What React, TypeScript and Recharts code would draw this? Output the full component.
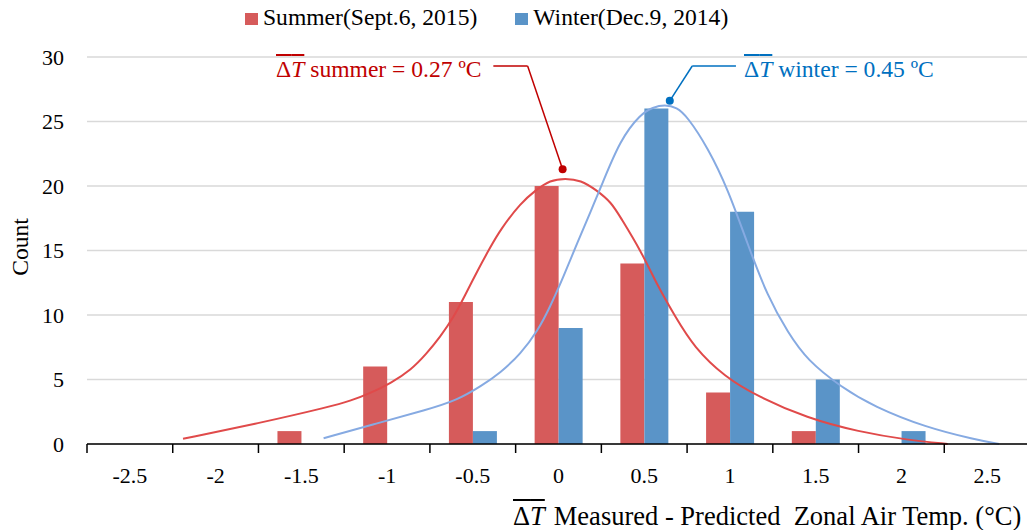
import React from 'react';
import {
  ComposedChart, Bar, Line, XAxis, YAxis, CartesianGrid, ReferenceLine, ReferenceDot,
} from 'recharts';

// ---- histogram data ----
const categories = ['-2.5', '-2', '-1.5', '-1', '-0.5', '0', '0.5', '1', '1.5', '2', '2.5'];
const summerCounts = [0, 0, 1, 6, 11, 20, 14, 4, 1, 0, 0];
const winterCounts = [0, 0, 0, 0, 1, 9, 26, 18, 5, 1, 0];
const yTicks = [0, 5, 10, 15, 20, 25, 30];

// ---- fitted curves ----
const summerFitX = [-2.19, -1.75, -1.33, -1.21, -1.1, -0.98, -0.86, -0.77, -0.69, -0.61, -0.55, -0.47, -0.4, -0.34, -0.22, -0.13, -0.05, 0.04, 0.13, 0.22, 0.31, 0.36, 0.48, 0.58, 0.68, 0.79, 0.97, 1.16, 1.45, 1.75, 2.04, 2.27];
const summerFitY = [0.4, 1.6, 2.9, 3.36, 3.93, 4.7, 5.74, 7.0, 8.3, 9.87, 11.4, 13.5, 15.2, 16.6, 18.7, 19.7, 20.45, 20.6, 20.45, 19.7, 18.7, 17.6, 15.0, 12.2, 9.9, 7.5, 5.2, 3.7, 2.0, 0.95, 0.3, 0];
const winterFitX = [-1.37, -1.06, -0.77, -0.59, -0.45, -0.34, -0.22, -0.12, -0.05, 0.03, 0.11, 0.19, 0.25, 0.36, 0.48, 0.55, 0.62, 0.69, 0.75, 0.87, 0.99, 1.1, 1.22, 1.34, 1.45, 1.65, 1.84, 2.14, 2.43, 2.57];
const winterFitY = [0.45, 1.6, 2.64, 3.4, 4.5, 5.5, 7.0, 8.8, 10.6, 13.0, 15.6, 18.1, 20.0, 23.6, 25.6, 26.1, 26.3, 26.1, 25.4, 23.0, 19.7, 15.6, 11.4, 8.6, 6.5, 4.4, 2.9, 1.3, 0.35, 0];

// ---- annotation leaders (data coords) ----
const summerLeader = [{ x: -0.38, y: 29.3 }, { x: -0.18, y: 29.3 }, { x: 0.024, y: 21.3 }];
const winterLeader = [{ x: 1.035, y: 29.3 }, { x: 0.78, y: 29.3 }, { x: 0.649, y: 26.6 }];

const RED = '#d65b5b';
const BLUE = '#5a94c8';
const RED_LINE = '#e04a4a';
const BLUE_LINE = '#86aae2';
const FONT = '"Liberation Serif", "Times New Roman", serif';

const barData = categories.map((c, i) => ({ cat: c, summer: summerCounts[i], winter: winterCounts[i] }));
const summerFit = summerFitX.map((x, i) => ({ x, y: summerFitY[i] }));
const winterFit = winterFitX.map((x, i) => ({ x, y: winterFitY[i] }));

function CategoryTick(props: any) {
  const { x, y, payload } = props;
  const half = payload?.offset || 42.85;
  const last = payload?.index === categories.length - 1;
  return (
    <g>
      <line x1={x - half} x2={x - half} y1={y - 9} y2={y} stroke="#000" strokeWidth={1.5} />
      {last && <line x1={x + half} x2={x + half} y1={y - 9} y2={y} stroke="#000" strokeWidth={1.5} />}
      <text x={x} y={y + 30} textAnchor="middle" fontSize={22} fontFamily={FONT} fill="#000">
        {payload.value}
      </text>
    </g>
  );
}

const DT = ({ gap = 0 }: { gap?: number }) => (
  <span style={{ textDecoration: 'overline', marginRight: gap }}>
    Δ<i>T</i>
  </span>
);

export default function App() {
  return (
    <div style={{ position: 'absolute', left: 0, top: 0, width: 1027, height: 530, overflow: 'hidden', background: '#fff', fontFamily: FONT }}>
      <ComposedChart width={1030} height={530} data={barData} margin={{ top: 57, right: 0, left: 0, bottom: 56 }} barGap={0}>
        <CartesianGrid vertical={false} stroke="#d9d9d9" strokeWidth={1.5} />
        <XAxis
          xAxisId="cat"
          dataKey="cat"
          height={30}
          tickSize={9}
          tickMargin={0}
          tickLine={false}
          axisLine={{ stroke: '#000', strokeWidth: 1.5 }}
          tick={<CategoryTick />}
          interval={0}
        />
        <XAxis xAxisId="num" type="number" dataKey="x" domain={[-2.75, 2.75]} allowDataOverflow hide />
        <YAxis
          width={87}
          domain={[0, 30]}
          ticks={yTicks}
          axisLine={false}
          tickLine={false}
          tickMargin={17}
          tick={{ fill: '#000', fontSize: 22, fontFamily: FONT }}
        />
        <Bar xAxisId="cat" dataKey="summer" fill={RED} barSize={24} isAnimationActive={false} />
        <Bar xAxisId="cat" dataKey="winter" fill={BLUE} barSize={24} isAnimationActive={false} />
        <Line xAxisId="num" data={summerFit} dataKey="y" type="basis" stroke={RED_LINE} strokeWidth={2} dot={false} isAnimationActive={false} />
        <Line xAxisId="num" data={winterFit} dataKey="y" type="basis" stroke={BLUE_LINE} strokeWidth={2} dot={false} isAnimationActive={false} />
        <ReferenceLine xAxisId="num" segment={[summerLeader[0], summerLeader[1]]} stroke="#c00000" strokeWidth={1.5} />
        <ReferenceLine xAxisId="num" segment={[summerLeader[1], summerLeader[2]]} stroke="#c00000" strokeWidth={1.5} />
        <ReferenceDot xAxisId="num" x={summerLeader[2].x} y={summerLeader[2].y} r={4} fill="#c00000" stroke="none" />
        <ReferenceLine xAxisId="num" segment={[winterLeader[0], winterLeader[1]]} stroke="#0070c0" strokeWidth={1.5} />
        <ReferenceLine xAxisId="num" segment={[winterLeader[1], winterLeader[2]]} stroke="#0070c0" strokeWidth={1.5} />
        <ReferenceDot xAxisId="num" x={winterLeader[2].x} y={winterLeader[2].y} r={4} fill="#0070c0" stroke="none" />
      </ComposedChart>

      {/* legend */}
      <div style={{ position: 'absolute', left: 245, top: 4, display: 'flex', alignItems: 'center', fontSize: 23.6, lineHeight: '26px', color: '#000', whiteSpace: 'nowrap' }}>
        <span style={{ width: 13, height: 12, background: RED, display: 'inline-block', marginRight: 5, transform: 'translateY(2px)' }} />
        <span>Summer(Sept.6, 2015)</span>
        <span style={{ width: 13, height: 12, background: BLUE, display: 'inline-block', marginLeft: 38, marginRight: 5, transform: 'translateY(2px)' }} />
        <span>Winter(Dec.9, 2014)</span>
      </div>

      {/* annotations */}
      <div style={{ position: 'absolute', left: 276, top: 56, fontSize: 23.6, lineHeight: '26px', color: '#c00000', whiteSpace: 'nowrap' }}>
        <DT /> summer = 0.27 ºC
      </div>
      <div style={{ position: 'absolute', left: 744, top: 56, fontSize: 23.6, lineHeight: '26px', color: '#0070c0', whiteSpace: 'nowrap' }}>
        <DT /> winter = 0.45 ºC
      </div>

      {/* axis titles */}
      <div style={{ position: 'absolute', left: 20, top: 247, transform: 'translate(-50%, -50%) rotate(-90deg)', fontSize: 23.6, lineHeight: '26px', whiteSpace: 'nowrap' }}>
        Count
      </div>
      <div style={{ position: 'absolute', left: 513, top: 501, fontSize: 26.5, lineHeight: '30px', whiteSpace: 'nowrap' }}>
        <DT gap={9} />Measured - Predicted&nbsp;&nbsp;Zonal Air Temp. (°C)
      </div>
    </div>
  );
}
